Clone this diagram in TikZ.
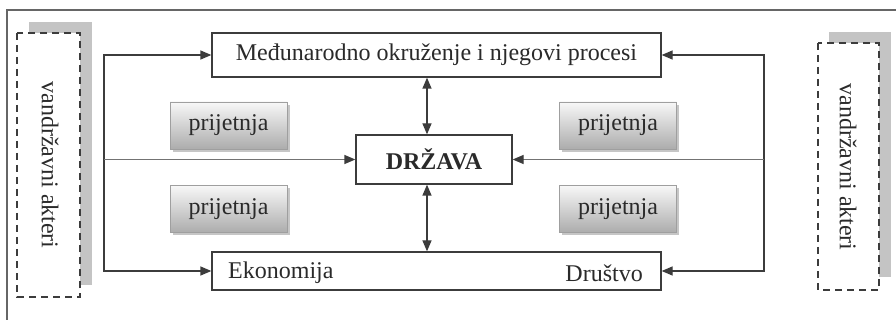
\documentclass[tikz,border=0pt]{standalone}
\usepackage{fontspec}
\setmainfont{Liberation Serif}
\usetikzlibrary{arrows.meta,shadows,calc}
\definecolor{ln}{HTML}{3C3C3C}
\definecolor{tx}{HTML}{2A2A2A}
\definecolor{barg}{HTML}{C4C4C4}
\tikzset{
  plain/.style={draw=ln,line width=1.3pt,fill=white,inner sep=0pt,text=tx,font=\fontsize{24}{27}\selectfont},
  threat/.style={draw=gray!75,line width=0.8pt,top color=gray!6,bottom color=gray!65,inner sep=0pt,
     minimum width=117pt,minimum height=47pt,text=tx,font=\fontsize{24}{27}\selectfont,
     drop shadow={shadow xshift=2.5pt,shadow yshift=-3pt,fill=gray!45,opacity=1}},
  actor/.style={draw=ln,line width=1.8pt,dash pattern=on 7pt off 5pt,fill=white},
  actortext/.style={rotate=-90,text=tx,font=\fontsize{24}{27}\selectfont,inner sep=0pt},
  arr/.style={draw=ln,line width=1.3pt,-{Triangle[length=11pt,width=9pt]}},
  arrg/.style={draw=gray!90!black,line width=1.3pt,-{Triangle[length=11pt,width=9pt,color=ln]}},
  dbl/.style={draw=ln,line width=1.3pt,{Triangle[length=11pt,width=9pt]}-{Triangle[length=11pt,width=9pt]}}
}
\begin{document}
\begin{tikzpicture}[x=1pt,y=-1pt]
\useasboundingbox (0,0) rectangle (896,320);
\begin{scope}
\clip (0,0) rectangle (896,320);
\draw[draw=gray!80!black,line width=1.4pt] (7,10) rectangle (920,340);
\end{scope}
% side actors
\fill[barg] (29,22) rectangle (92,285);
\draw[actor] (17,33) rectangle (80,297);
\node[actortext] (la) at (50,165) {vandržavni akteri};
\fill[barg] (829,32) rectangle (891,277);
\draw[actor] (818,43) rectangle (879,290);
\node[actortext] (ra) at (848,167) {vandržavni akteri};
% main boxes
\node[plain,minimum width=449pt,minimum height=44pt] (top) at (436.5,55) {Međunarodno okruženje i njegovi procesi};
\node[plain,minimum width=449pt,minimum height=38pt] (bot) at (436.5,271) {};
\node[text=tx,font=\fontsize{24}{27}\selectfont,anchor=west,inner sep=0pt] (eko) at (228,273) {Ekonomija};
\node[text=tx,font=\fontsize{24}{27}\selectfont,anchor=east,inner sep=0pt] (dru) at (643,273) {Društvo};
\node[plain,minimum width=156pt,minimum height=49pt,font=\fontsize{24}{27}\selectfont\bfseries] (drz) at (434,159.5) {DRŽAVA};
% threats
\node[threat] (t1) at (228.5,125.5) {prijetnja};
\node[threat] (t2) at (228.5,209) {prijetnja};
\node[threat] (t3) at (618,125.5) {prijetnja};
\node[threat] (t4) at (618,209) {prijetnja};
% connectors
\coordinate (L) at (104,159.5);
\coordinate (R) at (764,159.5);
\coordinate (V) at (427,0);
\draw[arr] (L) |- (top.west);
\draw[arr] (L) |- (bot.west);
\draw[arrg] (L) -- (drz.west);
\draw[arr] (R) |- (top.east);
\draw[arr] (R) |- (bot.east);
\draw[arrg] (R) -- (drz.east);
\draw[dbl] (top.south -| V) -- (drz.north -| V);
\draw[dbl] (drz.south -| V) -- (bot.north -| V);
\end{tikzpicture}
\end{document}
